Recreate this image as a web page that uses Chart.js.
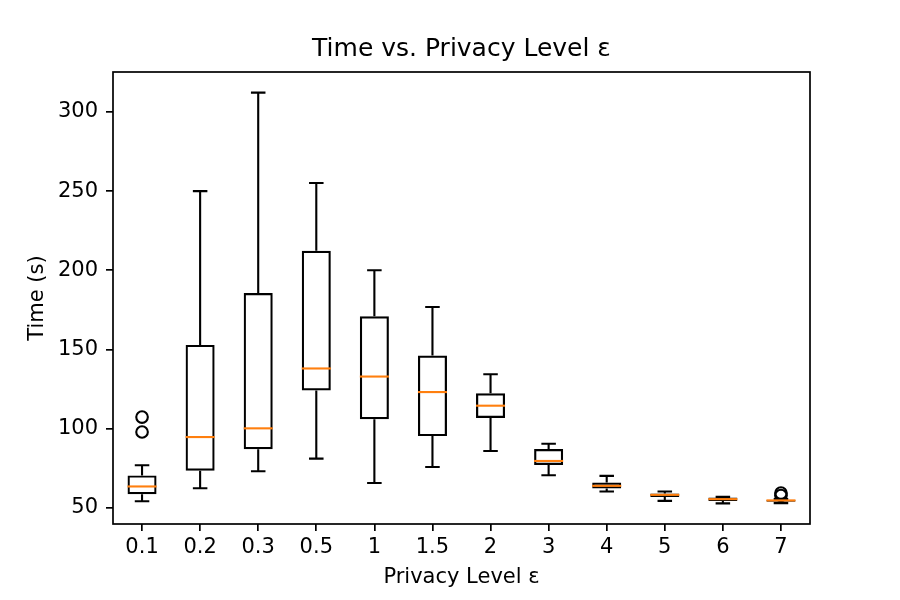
<!DOCTYPE html>
<html>
<head>
<meta charset="utf-8">
<script src="https://cdn.jsdelivr.net/npm/chart.js@4"></script>
<style>
    html, body { margin: 0; padding: 0; background: #fff; }
    #wrap { width: 900px; height: 600px; }
</style>
</head>
<body>
<div id="wrap"><canvas id="chart" width="900" height="600"></canvas></div>
<script>
// privacy levels on the x axis
const labels = ['0.1', '0.2', '0.3', '0.5', '1', '1.5', '2', '3', '4', '5', '6', '7'];

// box plot stats per level (seconds)
const whiskerLow = [54.2, 62.4, 73.1, 81.1, 65.7, 75.8, 85.9, 70.6, 60.3, 54.4, 52.8, 53.0];
const q1 = [58.6, 73.5, 87.0, 124.1, 105.9, 95.3, 106.7, 77.1, 62.2, 56.9, 54.4, 53.8];
const medians = [63.5, 94.7, 100.2, 138.0, 132.9, 123.1, 114.5, 79.6, 63.9, 58.2, 55.5, 54.7];
const q3 = [70.5, 152.9, 185.6, 212.3, 170.9, 146.2, 122.4, 87.2, 66.0, 59.1, 56.5, 55.0];
const whiskerHigh = [76.9, 250.0, 312.2, 255.1, 200.0, 176.8, 134.4, 90.5, 70.2, 60.3, 56.9, 55.5];

// fliers
const outlierLevels = ['0.1', '0.1', '7', '7'];
const outlierValues = [107.3, 97.9, 59.3, 57.8];

const yTicks = [50, 100, 150, 200, 250, 300];

Chart.defaults.color = '#000';
Chart.defaults.font.family = "'DejaVu Sans', sans-serif";

const boxData = labels.map((l, i) => [q1[i], q3[i]]);
const outlierData = outlierLevels.map((l, i) => ({x: l, y: outlierValues[i]}));

// whiskers, caps and medians, placed with the chart's scales
const boxExtras = {
    id: 'boxExtras',
    afterDatasetsDraw(chart) {
        const ctx = chart.ctx;
        const y = chart.scales.y;
        const bars = chart.getDatasetMeta(0).data;
        ctx.save();
        ctx.lineCap = 'butt';
        bars.forEach((bar, i) => {
            const cx = bar.x;
            const half = bar.width / 2;
            const capHalf = half / 2;
            ctx.strokeStyle = '#000';
            ctx.lineWidth = 2.1;
            ctx.beginPath();
            ctx.moveTo(cx, y.getPixelForValue(q3[i]));
            ctx.lineTo(cx, y.getPixelForValue(whiskerHigh[i]));
            ctx.moveTo(cx, y.getPixelForValue(q1[i]));
            ctx.lineTo(cx, y.getPixelForValue(whiskerLow[i]));
            ctx.moveTo(cx - capHalf, y.getPixelForValue(whiskerHigh[i]));
            ctx.lineTo(cx + capHalf, y.getPixelForValue(whiskerHigh[i]));
            ctx.moveTo(cx - capHalf, y.getPixelForValue(whiskerLow[i]));
            ctx.lineTo(cx + capHalf, y.getPixelForValue(whiskerLow[i]));
            ctx.stroke();

            ctx.strokeStyle = '#ff7f0e';
            ctx.beginPath();
            ctx.moveTo(cx - half, y.getPixelForValue(medians[i]));
            ctx.lineTo(cx + half, y.getPixelForValue(medians[i]));
            ctx.stroke();
        });
        ctx.restore();
    },
    afterDraw(chart) {
        const {ctx, chartArea} = chart;
        ctx.save();
        ctx.strokeStyle = '#000';
        ctx.lineWidth = 1.7;
        ctx.strokeRect(chartArea.left, chartArea.top, chartArea.right - chartArea.left, chartArea.bottom - chartArea.top);
        ctx.restore();
    }
};

new Chart(document.getElementById('chart'), {
    type: 'bar',
    data: {
        labels: labels,
        datasets: [
            {
                data: boxData,
                backgroundColor: 'rgba(0,0,0,0)',
                borderColor: '#000',
                borderWidth: 2.2,
                borderSkipped: false,
                barPercentage: 0.5,
                categoryPercentage: 1.0
            },
            {
                type: 'line',
                data: outlierData,
                showLine: false,
                pointStyle: 'circle',
                pointRadius: 5.8,
                pointBorderWidth: 2.1,
                pointBorderColor: '#000',
                pointBackgroundColor: 'rgba(0,0,0,0)'
            }
        ]
    },
    options: {
        responsive: false,
        animation: false,
        devicePixelRatio: 1,
        layout: {
            padding: {left: 0, right: 90, top: 0, bottom: 0}
        },
        plugins: {
            legend: {display: false},
            tooltip: {enabled: false},
            title: {
                display: true,
                text: 'Time vs. Privacy Level ε',
                fullSize: false,
                color: '#000',
                font: {size: 25, weight: 'normal'},
                padding: {top: 34, bottom: 8}
            }
        },
        scales: {
            x: {
                offset: true,
                grid: {
                    offset: false,
                    drawOnChartArea: false,
                    drawTicks: true,
                    tickLength: 7,
                    color: '#000',
                    lineWidth: 1.7
                },
                border: {display: false},
                ticks: {
                    font: {size: 21},
                    padding: 4,
                    maxRotation: 0
                },
                title: {
                    display: true,
                    text: 'Privacy Level ε',
                    font: {size: 21},
                    padding: {top: 0, bottom: 10}
                },
                afterFit(scale) {
                    scale.height = 76;
                }
            },
            y: {
                min: 39.8,
                max: 325.2,
                grid: {
                    drawOnChartArea: false,
                    drawTicks: true,
                    tickLength: 7,
                    color: '#000',
                    lineWidth: 1.7
                },
                border: {display: false},
                ticks: {
                    font: {size: 21},
                    padding: 8
                },
                afterBuildTicks(scale) {
                    scale.ticks = yTicks.map(v => ({value: v}));
                },
                title: {
                    display: true,
                    text: 'Time (s)',
                    font: {size: 21},
                    padding: {top: 25, bottom: 0}
                },
                afterFit(scale) {
                    scale.width = 113;
                }
            }
        }
    },
    plugins: [boxExtras]
});
</script>
</body>
</html>
